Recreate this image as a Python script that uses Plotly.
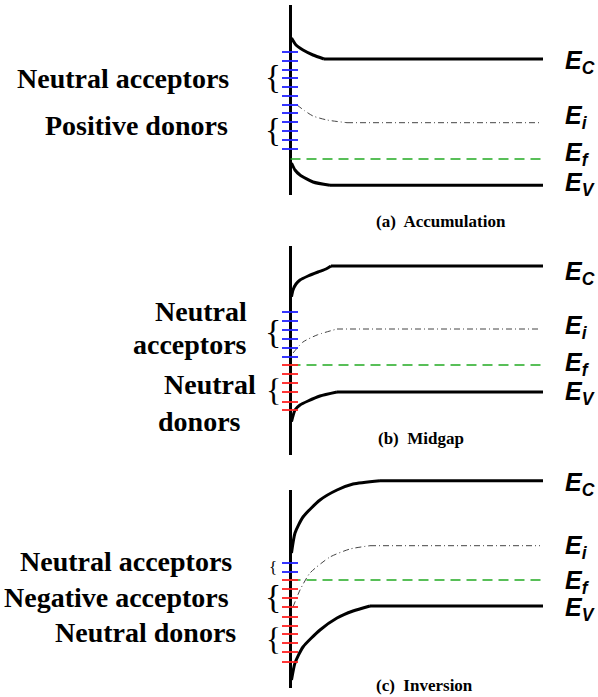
import plotly.graph_objects as go

# ---- Data (diagram coordinates: position x, energy level y on a reversed axis) ----
# Panel (a) Accumulation
a_ec_x = [291.5, 296, 303, 313, 324, 543]
a_ec_y = [38, 45, 50, 55, 59, 59]
a_ei_x = [297, 305, 313, 327, 347, 540]
a_ei_y = [105, 111, 116, 120, 122.7, 122.7]
a_ef = 159
a_ev_x = [291.5, 295, 300, 313, 330, 543]
a_ev_y = [163, 170, 175, 182, 185.3, 185.3]
a_blue = [52, 61, 70, 78, 87, 96, 105, 113, 122, 131, 140, 149]
a_red = []

# Panel (b) Midgap
b_ec_x = [291.5, 293, 296, 300, 308, 318, 326, 331, 543]
b_ec_y = [296.7, 290, 284, 280, 276, 272, 269, 266, 266]
b_ei_x = [293, 303, 317, 337, 540]
b_ei_y = [353, 342, 335, 329, 329]
b_ef = 365
b_ev_x = [291.5, 295, 300, 308, 320, 337, 543]
b_ev_y = [421.7, 410, 405, 401, 396, 392, 392]
b_blue = [312, 321, 330, 339, 348, 357]
b_red = [365, 374, 383, 392, 402, 410]

# Panel (c) Inversion
c_ec_x = [291.5, 295, 303, 320, 337, 353, 380, 543]
c_ec_y = [553, 533, 517, 500, 490, 484, 480.7, 480.7]
c_ei_x = [293, 300, 310, 330, 350, 370, 540]
c_ei_y = [607, 590, 573, 557, 549, 545.7, 545.7]
c_ef = 580
c_ev_x = [291.5, 295, 303, 320, 337, 353, 370, 543]
c_ev_y = [680, 663, 647, 630, 618, 611, 606, 606]
c_blue = [563, 572]
c_red = [580, 589, 598, 607, 617, 626, 634, 643, 652, 662]

# Vertical surface line spans per panel
surf_top = [5, 246, 490]
surf_bot = [195, 455, 688]

captions = ["(a)  Accumulation", "(b)  Midgap", "(c)  Inversion"]
caption_x = [441, 421, 424]
caption_y = [221, 438, 685]

# Level labels per panel: Ec, Ei, Ef, Ev
level_names = ["C", "i", "f", "V"]
level_y = [[62, 117, 154, 184], [273, 327, 364, 393], [484, 547, 582, 609]]

# Trap labels: (text, right x, y)
trap_labels = [
    ("Neutral acceptors", 231, 78),
    ("Positive donors", 230, 125),
    ("Neutral", 249, 311),
    ("acceptors", 249, 344),
    ("Neutral", 258, 384),
    ("donors", 243, 421),
    ("Neutral acceptors", 234, 561),
    ("Negative acceptors", 231, 597),
    ("Neutral donors", 238, 632),
]
# Braces: (center y, size)
braces = [(77, 33), (130, 33), (331, 34), (390, 32), (567, 17), (596, 34), (639, 31)]

SERIF = "Liberation Serif"
SANS = "Liberation Sans"
TICK_X0, TICK_X1 = 282, 298
LEFT_X, RIGHT_X = 290.5, 543

fig = go.Figure()


def curve(x, y, color="black", width=3, dash=None):
    # curved part smoothed, flat tail straight
    fig.add_trace(go.Scatter(x=x[:-1], y=y[:-1], mode="lines", hoverinfo="skip",
                             line=dict(color=color, width=width, dash=dash,
                                       shape="spline", smoothing=0.6)))
    fig.add_trace(go.Scatter(x=x[-2:], y=y[-2:], mode="lines", hoverinfo="skip",
                             line=dict(color=color, width=width, dash=dash)))


def straight(x, y, color="black", width=3, dash=None):
    fig.add_trace(go.Scatter(x=x, y=y, mode="lines", hoverinfo="skip",
                             line=dict(color=color, width=width, dash=dash)))


def ticks(levels, color):
    if not levels:
        return
    xs, ys = [], []
    for v in levels:
        xs += [TICK_X0, TICK_X1, None]
        ys += [v, v, None]
    fig.add_trace(go.Scatter(x=xs, y=ys, mode="lines", hoverinfo="skip",
                             line=dict(color=color, width=1.8)))


panels = [
    (a_ec_x, a_ec_y, a_ei_x, a_ei_y, a_ef, a_ev_x, a_ev_y, a_blue, a_red),
    (b_ec_x, b_ec_y, b_ei_x, b_ei_y, b_ef, b_ev_x, b_ev_y, b_blue, b_red),
    (c_ec_x, c_ec_y, c_ei_x, c_ei_y, c_ef, c_ev_x, c_ev_y, c_blue, c_red),
]

for i, (ecx, ecy, eix, eiy, ef, evx, evy, blue, red) in enumerate(panels):
    straight([LEFT_X, LEFT_X], [surf_top[i], surf_bot[i]])
    curve(ecx, ecy)
    curve(evx, evy)
    curve(eix, eiy, color="#444444", width=1, dash="6px,3px,1px,3px")
    straight([LEFT_X, RIGHT_X], [ef, ef], color="#22aa22", width=1.5, dash="10px,6px")
    ticks(blue, "#2020ff")
    ticks(red, "#ff2020")

annotations = []
for i in range(3):
    for name, yv in zip(level_names, level_y[i]):
        annotations.append(dict(
            x=563, y=yv, xanchor="left", yanchor="middle", showarrow=False,
            text="<b><i>E</i></b><sub><b><i>%s</i></b></sub>" % name,
            font=dict(family=SANS, size=25, color="black")))
    annotations.append(dict(
        x=caption_x[i], y=caption_y[i],
        xanchor="center", yanchor="middle", showarrow=False,
        text="<b>%s</b>" % captions[i],
        font=dict(family=SERIF, size=17, color="black")))

for txt, xr, yv in trap_labels:
    annotations.append(dict(
        x=xr, y=yv, xanchor="right", yanchor="middle", showarrow=False,
        text="<b>%s</b>" % txt,
        font=dict(family=SERIF, size=28, color="black")))

for yc, sz in braces:
    annotations.append(dict(
        x=273, y=yc, xanchor="center", yanchor="middle", showarrow=False,
        text="{", font=dict(family=SERIF, size=sz, color="black")))

fig.update_layout(
    width=598, height=697,
    margin=dict(l=0, r=0, t=0, b=0),
    paper_bgcolor="white", plot_bgcolor="white",
    showlegend=False,
    xaxis=dict(range=[0, 598], visible=False, fixedrange=True),
    yaxis=dict(range=[697, 0], visible=False, fixedrange=True),
    annotations=annotations,
)

fig.write_html("out.html")
